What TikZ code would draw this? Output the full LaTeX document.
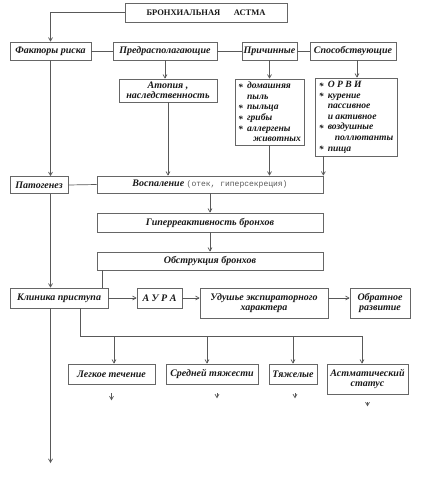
\documentclass[tikz,border=0pt]{standalone}
\usepackage{fontspec}
\setmainfont{Liberation Serif}
\newfontfamily\monof{Liberation Mono}
\newfontfamily\topfont{Liberation Serif}
\usetikzlibrary{arrows.meta}
\newcommand{\itm}[1]{\makebox[9pt][l]{\raisebox{-1.8pt}{*}}#1}
\begin{document}
\begin{tikzpicture}[x=1pt,y=-1pt,
  line/.style={draw=black!65, line width=0.7pt},
  box/.style={draw=black!60, line width=0.7pt, inner sep=1pt, align=center,
    font=\fontsize{10}{10.5}\selectfont\bfseries\itshape, text=black!90},
  listbox/.style={box, align=left, font=\fontsize{9.6}{10.6}\selectfont\bfseries\itshape},
  arr/.style={line, -{Straight Barb[length=3.5pt,width=4pt]}},
]
\fill[white] (0,0) rectangle (421,500);
\useasboundingbox (0,0) rectangle (421,500);

% boxes
\node[box, minimum width=162pt, minimum height=19pt, font=\topfont\bfseries\fontsize{8.5}{9}\selectfont] (top) at (206,12.5) {БРОНХИАЛЬНАЯ\hspace{1.6em}АСТМА};
\node[box, minimum width=81pt, minimum height=18pt] (fakt) at (50.5,51) {Факторы риска};
\node[box, minimum width=104pt, minimum height=18pt] (pred) at (165,51) {Предрасполагающие};
\node[box, minimum width=55pt, minimum height=18pt] (prich) at (269.5,51) {Причинные};
\node[box, minimum width=86pt, minimum height=18pt] (spos) at (353,51) {Способствующие};
\node[box, minimum width=98pt, minimum height=23pt] (atop) at (168,90.5) {Атопия ,\\наследственность};
\node[listbox, minimum width=69pt, minimum height=66pt] (prichlist) at (269.5,112)
  {\itm{домашняя}\\\hspace*{9pt}пыль\\\itm{пыльца}\\\itm{грибы}\\\itm{аллергены}\\\hspace*{15pt}животных};
\node[listbox, minimum width=82pt, minimum height=78pt] (sposlist) at (356,117)
  {\itm{О Р В И}\\\itm{курение}\\\hspace*{9pt}пассивное\\\hspace*{9pt}и активное\\\itm{воздушные}\\\hspace*{16pt}поллютанты\\\itm{пища}};
\node[box, minimum width=58pt, minimum height=17pt] (patog) at (39,185) {Патогенез};
\node[box, minimum width=226pt, minimum height=17pt] (vosp) at (210,184.5)
  {Воспаление {\monof\mdseries\upshape\fontsize{8}{9}\selectfont\color{black!65} (отек, гиперсекреция)}};
\node[box, minimum width=226pt, minimum height=19pt] (giper) at (210,222.5) {Гиперреактивность бронхов};
\node[box, minimum width=226pt, minimum height=18pt] (obstr) at (210,261) {Обструкция бронхов};
\node[box, minimum width=98pt, minimum height=20pt] (klin) at (59,298) {Клиника приступа};
\node[box, minimum width=45pt, minimum height=20pt] (aura) at (159.5,298) {А У Р А};
\node[box, minimum width=128pt, minimum height=30pt] (udush) at (264,303) {Удушье экспираторного\\характера};
\node[box, minimum width=60pt, minimum height=30pt] (obrat) at (380,303) {Обратное\\развитие};
\node[box, minimum width=87pt, minimum height=20pt] (legk) at (111.5,374) {Легкое течение};
\node[box, minimum width=92pt, minimum height=20pt] (sred) at (212,374) {Средней тяжести};
\node[box, minimum width=48pt, minimum height=20pt] (tyazh) at (293,374) {Тяжелые};
\node[box, minimum width=81pt, minimum height=30pt] (astm) at (367.5,379) {Астматический\\статус};

% coordinates
\coordinate (bus) at (80,336);
\coordinate (d1) at (114,336);
\coordinate (d2) at (207,336);
\coordinate (d3) at (293,336);
\coordinate (d4) at (362,336);
\coordinate (endp) at (50.5,463);

% connectors
\draw[arr] (top.west) -| (fakt.north);
\draw[line] (fakt.east) -- (pred.west);
\draw[line] (pred.east) -- (prich.west);
\draw[line] (prich.east) -- (spos.west);
\draw[arr] (pred.south) -- (pred.south |- atop.north);
\draw[arr] (prich.south) -- (prichlist.north);
\draw[arr] ([xshift=4pt]spos.south) -- ([xshift=4pt]spos.south |- sposlist.north);
\draw[arr] (atop.south) -- (atop.south |- vosp.north);
\draw[arr] (prichlist.south) -- (prichlist.south |- vosp.north);
\draw[arr] (sposlist.south west -| vosp.east) -- (vosp.north east);
\draw[arr] (fakt.south) -- (fakt.south |- patog.north);
\draw[line] (patog.east) -- (vosp.west);
\draw[arr] (vosp.south) -- (giper.north);
\draw[arr] (giper.south) -- (obstr.north);
\draw[line] ([xshift=6pt]obstr.south west) -- ([xshift=6pt]obstr.south west |- klin.north);
\draw[arr] (fakt.south |- patog.south) -- (fakt.south |- klin.north);
\draw[arr] (klin.east) -- (aura.west);
\draw[arr] (aura.east) -- (udush.west |- aura.east);
\draw[arr] (udush.east |- aura.east) -- (obrat.west |- aura.east);
\draw[line] (klin.south -| bus) -- (bus) -- (d4);
\draw[arr] (d1) -- (d1 |- legk.north);
\draw[arr] (d2) -- (d2 |- sred.north);
\draw[arr] (d3) -- (d3 |- tyazh.north);
\draw[arr] (d4) -- (d4 |- astm.north);
\draw[arr] (fakt.south |- klin.south) -- (endp);
% short stubs
\draw[arr] (legk.south) ++(0,9) -- ++(0,7);
\draw[arr] ([xshift=5pt]sred.south) ++(0,9) -- ++(0,5);
\draw[arr] ([xshift=2pt]tyazh.south) ++(0,9) -- ++(0,5);
\draw[arr] (astm.south) ++(0,8) -- ++(0,4);
\end{tikzpicture}
\end{document}
